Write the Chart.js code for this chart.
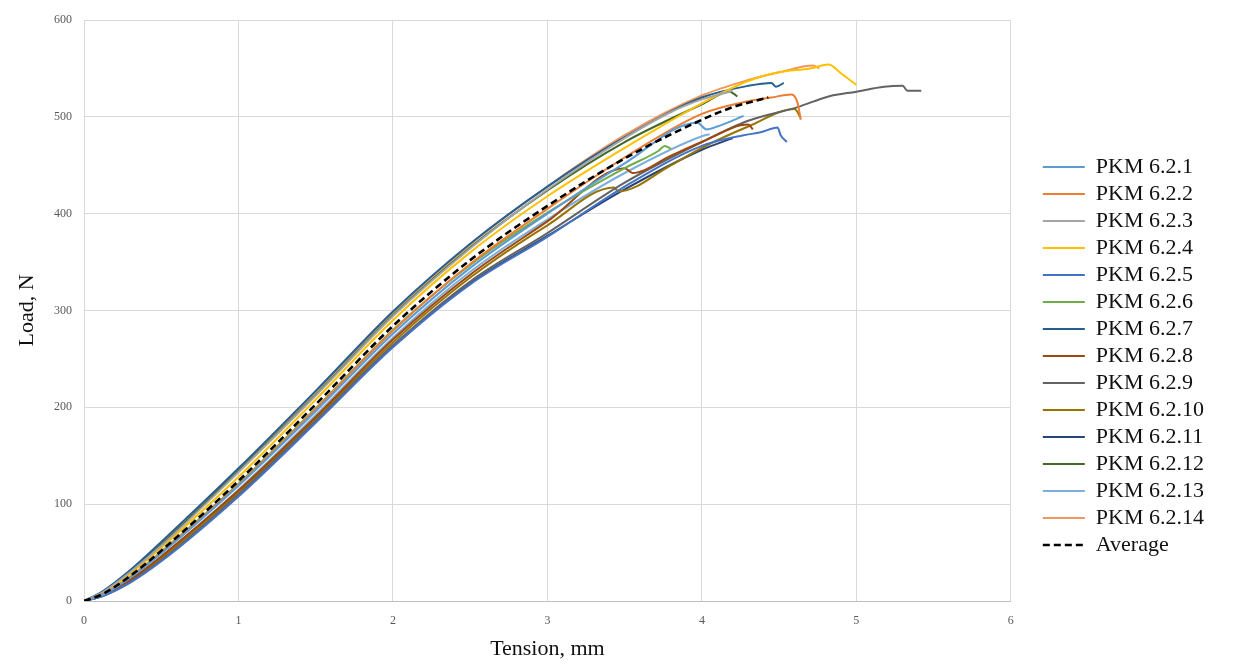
<!DOCTYPE html>
<html lang="en">
<head>
  <meta charset="UTF-8" />
  <title>PKM 6.2 - Load vs Tension</title>
  <script src="https://cdn.jsdelivr.net/npm/chart.js"></script>
  <style>
    body { margin: 0; background: #fff; }
    #wrap { width: 1235px; height: 666px; }
  </style>
</head>
<body>
  <div id="wrap"><canvas id="loadChart" width="1235" height="666"></canvas></div>

  <script>
    // tension (mm), load (N) pairs for each specimen
    const pkm621 = [[0,0],[0.12,6],[0.3,24],[0.5,49],[1,119],[1.5,196],[2,276],[2.5,344],[3,400],[3.5,452],[3.97,494],[4.03,487],[4.1,490],[4.27,501]];
    const pkm622 = [[0,0],[0.12,7],[0.3,25],[0.5,50],[1,120],[1.5,198],[2,279],[2.5,348],[3,405],[3.5,458],[4,503],[4.3,516],[4.45,520],[4.58,523],[4.62,514],[4.64,497]];
    const pkm623 = [[0,0],[0.12,9],[0.3,30],[0.5,57],[1,133],[1.5,212],[2,294],[2.5,364],[3,425],[3.5,478],[3.8,505],[4,518],[4.2,527]];
    const pkm624 = [[0,0],[0.12,8],[0.3,28],[0.5,55],[1,128],[1.5,208],[2,290],[2.5,360],[3,418],[3.5,468],[4,514],[4.3,537],[4.5,546],[4.7,550],[4.82,554],[4.9,545],[5.0,533]];
    const pkm625 = [[0,0],[0.12,5],[0.3,19],[0.5,41],[1,108],[1.5,184],[2,262],[2.5,327],[3,376],[3.5,428],[4,470],[4.27,481],[4.38,484],[4.49,489],[4.51,481],[4.55,474]];
    const pkm626 = [[0,0],[0.12,7],[0.3,25],[0.5,51],[1,121],[1.5,199],[2,280],[2.5,347],[3,401],[3.5,447],[3.72,465],[3.76,470],[3.8,467]];
    const pkm627 = [[0,0],[0.12,10],[0.3,32],[0.5,61],[1,137],[1.5,217],[2,299],[2.5,369],[3,428],[3.5,479],[4,520],[4.3,532],[4.45,535],[4.48,531],[4.53,535]];
    const pkm628 = [[0,0],[0.12,6],[0.3,22],[0.5,46],[1,114],[1.5,190],[2,270],[2.5,337],[3,392],[3.5,447],[3.55,442],[3.8,460],[4,474],[4.3,492],[4.33,487]];
    const pkm629 = [[0,0],[0.12,5],[0.3,20],[0.5,42],[1,110],[1.5,186],[2,264],[2.5,330],[3,380],[3.5,432],[4,474],[4.3,496],[4.62,510],[4.82,521],[5.0,526],[5.18,531],[5.3,532],[5.33,527],[5.42,527]];
    const pkm6210 = [[0,0],[0.12,6],[0.3,21],[0.5,44],[1,112],[1.5,188],[2,267],[2.5,334],[3,388],[3.43,427],[3.46,423],[3.8,450],[4,468],[4.3,490],[4.6,508],[4.64,499]];
    const pkm6211 = [[0,0],[0.12,5],[0.3,20],[0.5,42],[1,109],[1.5,185],[2,263],[2.5,328],[3,377],[3.5,425],[4,466],[4.2,478]];
    const pkm6212 = [[0,0],[0.12,9],[0.3,30],[0.5,58],[1,134],[1.5,213],[2,295],[2.5,365],[3,424],[3.5,474],[4,513],[4.18,526],[4.23,521]];
    const pkm6213 = [[0,0],[0.12,6],[0.3,22],[0.5,46],[1,115],[1.5,192],[2,272],[2.5,340],[3,394],[3.5,442],[4,480],[4.05,482]];
    const pkm6214 = [[0,0],[0.12,9],[0.3,31],[0.5,60],[1,136],[1.5,216],[2,298],[2.5,368],[3,428],[3.5,481],[4,522],[4.3,538],[4.5,546],[4.72,553],[4.76,550]];
    const average = [[0,0],[0.12,7],[0.3,26],[0.5,52],[1,124],[1.5,203],[2,284],[2.5,352],[3,408],[3.5,457],[4,497],[4.2,510],[4.43,520]];

    const seriesNames = ['PKM 6.2.1','PKM 6.2.2','PKM 6.2.3','PKM 6.2.4','PKM 6.2.5','PKM 6.2.6','PKM 6.2.7',
                         'PKM 6.2.8','PKM 6.2.9','PKM 6.2.10','PKM 6.2.11','PKM 6.2.12','PKM 6.2.13','PKM 6.2.14'];
    const seriesData = [pkm621, pkm622, pkm623, pkm624, pkm625, pkm626, pkm627,
                        pkm628, pkm629, pkm6210, pkm6211, pkm6212, pkm6213, pkm6214];
    const seriesColors = ['#5B9BD5','#ED7D31','#A5A5A5','#FFC000','#4472C4','#70AD47','#255E91',
                          '#9E480E','#636363','#997300','#264478','#43682B','#7CAFDD','#F1975A'];

    const xTicks = [0, 1, 2, 3, 4, 5, 6];
    const yTicks = [0, 100, 200, 300, 400, 500, 600];

    const serif = "'Liberation Serif', 'Times New Roman', serif";
    const toPoints = arr => arr.map(p => ({ x: p[0], y: p[1] }));

    const datasets = seriesNames.map((name, i) => ({
      label: name,
      data: toPoints(seriesData[i]),
      borderColor: seriesColors[i],
      backgroundColor: seriesColors[i],
      borderWidth: 2,
      pointRadius: 0,
      cubicInterpolationMode: 'monotone',
      fill: false
    }));
    datasets.push({
      label: 'Average',
      data: toPoints(average),
      borderColor: '#000',
      backgroundColor: '#000',
      borderWidth: 2.6,
      borderDash: [7, 4],
      pointRadius: 0,
      cubicInterpolationMode: 'monotone',
      fill: false,
      order: -1   // dashed average sits on top of the specimens
    });

    // move the legend block into place after layout
    const legendShift = {
      id: 'legendShift',
      afterLayout(chart) {
        const lg = chart.legend;
        lg.left += 27; lg.right += 27;
        lg.top += 13; lg.bottom += 13;
      }
    };

    new Chart(document.getElementById('loadChart'), {
      type: 'line',
      data: { datasets },
      plugins: [legendShift],
      options: {
        responsive: false,
        animation: false,
        layout: { padding: { top: 20, right: 48, left: 0, bottom: 0 } },
        plugins: {
          tooltip: { enabled: false },
          legend: {
            position: 'right',
            labels: {
              usePointStyle: true,
              pointStyle: 'line',
              pointStyleWidth: 42,
              padding: 5,
              color: '#111',
              font: { family: serif, size: 22 },
              sort: (a, b) => a.datasetIndex - b.datasetIndex,
              generateLabels(chart) {
                const items = Chart.defaults.plugins.legend.labels.generateLabels(chart);
                items.forEach(it => {
                  const ds = chart.data.datasets[it.datasetIndex];
                  it.lineDash = ds.borderDash || [];
                  it.lineWidth = ds.borderDash ? 2.6 : 2;
                  it.strokeStyle = ds.borderColor;
                });
                return items;
              }
            }
          }
        },
        scales: {
          x: {
            type: 'linear',
            min: 0, max: 6,
            afterBuildTicks: s => { s.ticks = xTicks.map(v => ({ value: v })); },
            afterFit: s => { s.height = 65; },
            grid: { color: '#d9d9d9', drawTicks: false },
            border: { color: '#bfbfbf' },
            ticks: { padding: 13, color: '#595959', font: { family: serif, size: 12 } },
            title: { display: true, text: 'Tension, mm', color: '#111', font: { family: serif, size: 22 }, padding: { top: 6 } }
          },
          y: {
            min: 0, max: 600,
            afterBuildTicks: s => { s.ticks = yTicks.map(v => ({ value: v })); },
            afterFit: s => { s.width = 84; },
            grid: { color: '#d9d9d9', drawTicks: false },
            border: { color: '#d9d9d9' },
            ticks: { padding: 12, color: '#595959', font: { family: serif, size: 12 } },
            title: { display: true, text: 'Load, N', color: '#111', font: { family: serif, size: 22 }, padding: { top: 14, bottom: 0 } }
          }
        }
      }
    });
  </script>
</body>
</html>
